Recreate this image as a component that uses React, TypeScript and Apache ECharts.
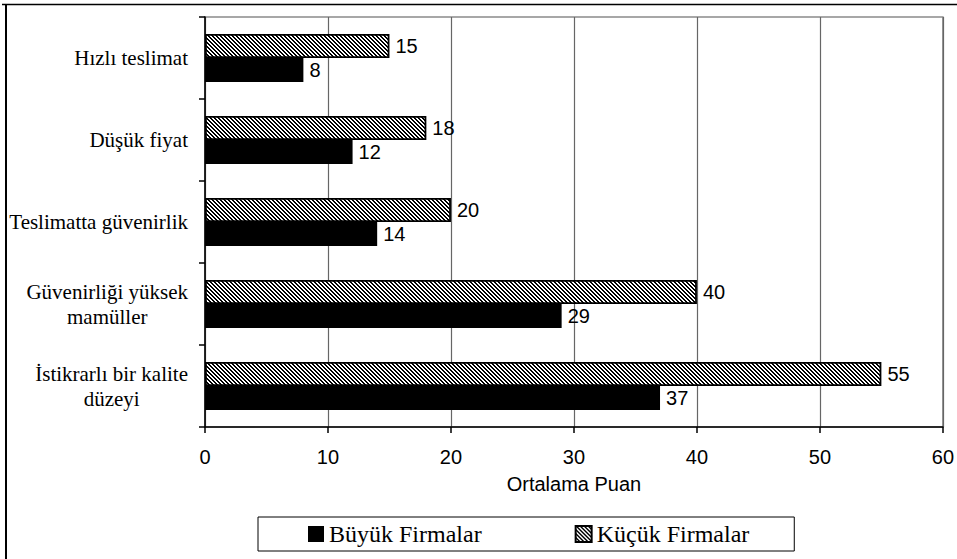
import React, { useEffect, useRef } from "react";
import * as echarts from "echarts";

// Survey factors (top to bottom) and mean scores per firm size
const categories = [
  "Hızlı teslimat",
  "Düşük fiyat",
  "Teslimatta güvenirlik",
  "Güvenirliği yüksek\nmamüller",
  "İstikrarlı bir kalite\ndüzeyi",
];
const kucukFirmalar = [15, 18, 20, 40, 55];
const buyukFirmalar = [8, 12, 14, 29, 37];
const seriesNames = ["Büyük Firmalar", "Küçük Firmalar"];
const axisTitle = "Ortalama Puan";
const axisMin = 0;
const axisMax = 60;
const axisStep = 10;

const SERIF = "Liberation Serif";
const SANS = "Liberation Sans";

// Diagonal "\" hatch tile, pixel exact
function makeHatch(): string {
  const size = 4;
  const c = document.createElement("canvas");
  c.width = size;
  c.height = size;
  const ctx = c.getContext("2d")!;
  ctx.fillStyle = "#fff";
  ctx.fillRect(0, 0, size, size);
  ctx.fillStyle = "#000";
  for (let y = 0; y < size; y++) {
    for (let x = 0; x < size; x++) {
      const d = (((x - y) % size) + size) % size;
      if (d === 0 || d === 1) ctx.fillRect(x, y, 1, 1);
    }
  }
  return c.toDataURL();
}

export default function App() {
  const ref = useRef<HTMLDivElement>(null);

  useEffect(() => {
    document.body.style.margin = "0";
    const el = ref.current!;
    const chart = echarts.init(el, undefined, { renderer: "svg" });
    const hatch = {
      image: makeHatch(),
      repeat: "repeat",
      imageWidth: 4,
      imageHeight: 4,
    };

    const valueLabel = {
      show: true,
      position: "right",
      distance: 6,
      color: "#000",
      fontFamily: SANS,
      fontSize: 20,
      fontWeight: "normal",
    };

    chart.setOption({
      animation: false,
      backgroundColor: "#fff",
      textStyle: { fontFamily: SANS, fontWeight: "normal" },
      grid: {
        left: 205,
        right: 14,
        top: 17,
        bottom: 132,
        show: true,
        borderColor: "#8a8a8a",
        borderWidth: 1.5,
        backgroundColor: "transparent",
      },
      legend: {
        data: seriesNames,
        icon: "rect",
        left: 258,
        top: 517,
        padding: [5, 45, 5, 50],
        itemWidth: 16,
        itemHeight: 16,
        itemGap: 93,
        borderColor: "#000",
        borderWidth: 1,
        textStyle: { fontFamily: SERIF, fontSize: 24, color: "#000", fontWeight: "normal" },
      },
      xAxis: {
        type: "value",
        min: axisMin,
        max: axisMax,
        interval: axisStep,
        name: axisTitle,
        nameLocation: "middle",
        nameGap: 47,
        nameTextStyle: { fontFamily: SANS, fontSize: 20, color: "#000" },
        axisLine: { show: true, lineStyle: { color: "#000", width: 1.5 } },
        axisTick: { show: true, length: 6, lineStyle: { color: "#000", width: 1.5 } },
        axisLabel: { margin: 20, fontFamily: SANS, fontSize: 20, color: "#000" },
        splitLine: { show: true, lineStyle: { color: "#666", width: 1.2 } },
      },
      yAxis: {
        type: "category",
        data: categories,
        inverse: true,
        axisLine: { show: true, lineStyle: { color: "#000", width: 1.5 } },
        axisTick: { show: true, length: 6, lineStyle: { color: "#000", width: 1.5 } },
        axisLabel: {
          margin: 17,
          fontFamily: SERIF,
          fontSize: 21,
          lineHeight: 25,
          fontWeight: "normal",
          color: "#000",
          // each line centred within the right-aligned label block
          formatter: (v: string) =>
            v
              .split("\n")
              .map((l) => `{c|${l}}`)
              .join("\n"),
          rich: {
            c: {
              fontFamily: SERIF,
              fontSize: 21,
              fontWeight: "normal",
              lineHeight: 25,
              align: "center",
              color: "#000",
            },
          },
        },
        splitLine: { show: false },
      },
      series: [
        {
          name: seriesNames[1],
          type: "bar",
          data: kucukFirmalar,
          barWidth: 24,
          barGap: "0%",
          itemStyle: { color: hatch, borderColor: "#000", borderWidth: 1.8 },
          label: valueLabel,
        },
        {
          name: seriesNames[0],
          type: "bar",
          data: buyukFirmalar,
          barWidth: 24,
          barGap: "0%",
          itemStyle: { color: "#000" },
          label: valueLabel,
        },
      ],
      graphic: [
        {
          type: "line",
          shape: { x1: 2, y1: 4.5, x2: 957, y2: 4.5 },
          style: { stroke: "#000", lineWidth: 1.5 },
        },
        {
          type: "line",
          shape: { x1: 6, y1: 4, x2: 6, y2: 559 },
          style: { stroke: "#000", lineWidth: 2 },
        },
      ],
    });

    return () => chart.dispose();
  }, []);

  return <div ref={ref} style={{ width: 957, height: 559 }} />;
}
